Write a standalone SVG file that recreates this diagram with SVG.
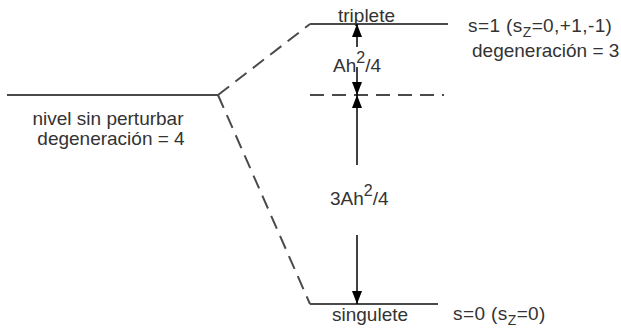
<svg xmlns="http://www.w3.org/2000/svg" width="621" height="329" viewBox="0 0 621 329">
<style>
  .lvl { stroke: #4a4a4a; stroke-width: 2; fill: none; }
  .dash { stroke: #4a4a4a; stroke-width: 2; fill: none; stroke-dasharray: 14 8; }
  .arr { stroke: #000; stroke-width: 1.5; fill: none; marker-end: url(#head); }
  text { font-family: "Liberation Sans", Arial, Helvetica, sans-serif; font-size: 19px; fill: #333; }
  .mid { text-anchor: middle; }
  .sup { font-size: 16px; }
  .sub { font-size: 14px; }
</style>
<defs>
  <marker id="head" markerUnits="userSpaceOnUse" markerWidth="13" markerHeight="10" refX="13" refY="5" orient="auto">
    <path d="M0,0 L13,5 L0,10 Z" fill="#000"/>
  </marker>
</defs>
<rect width="621" height="329" fill="#fff"/>

<g id="unperturbed">
  <line class="lvl" x1="7" y1="95" x2="218" y2="95"/>
  <text class="mid" x="108" y="125">nivel sin perturbar</text>
  <text class="mid" x="111" y="145">degeneración = 4</text>
</g>

<g id="triplet">
  <line class="lvl" x1="310" y1="24" x2="448" y2="24"/>
  <text x="338" y="22">triplete</text>
  <text x="468" y="32" letter-spacing="0.4">s=1 (s<tspan class="sub" dy="5">Z</tspan><tspan dy="-5">=0,+1,-1)</tspan></text>
  <text x="472" y="57">degeneración = 3</text>
</g>

<g id="reference">
  <line class="dash" x1="310" y1="95" x2="444" y2="95"/>
</g>

<g id="singlet">
  <line class="lvl" x1="310" y1="304" x2="438" y2="304"/>
  <text x="332" y="321">singulete</text>
  <text x="453" y="320" letter-spacing="0.4">s=0 (s<tspan class="sub" dy="5">Z</tspan><tspan dy="-5">=0)</tspan></text>
</g>

<g id="connectors">
  <line class="dash" x1="218" y1="95" x2="310" y2="24"/>
  <line class="dash" x1="218" y1="95" x2="310" y2="304"/>
  <line class="arr" x1="357" y1="47" x2="357" y2="24"/>
  <line class="arr" x1="357" y1="67" x2="357" y2="95"/>
  <line class="arr" x1="357" y1="165" x2="357" y2="95"/>
  <line class="arr" x1="357" y1="235" x2="357" y2="304"/>
</g>

<g id="labels">
  <text x="333" y="72">Ah<tspan class="sup" dy="-9">2</tspan><tspan dy="9">/4</tspan></text>
  <text x="330" y="205">3Ah<tspan class="sup" dy="-9">2</tspan><tspan dy="9">/4</tspan></text>
</g>
</svg>
